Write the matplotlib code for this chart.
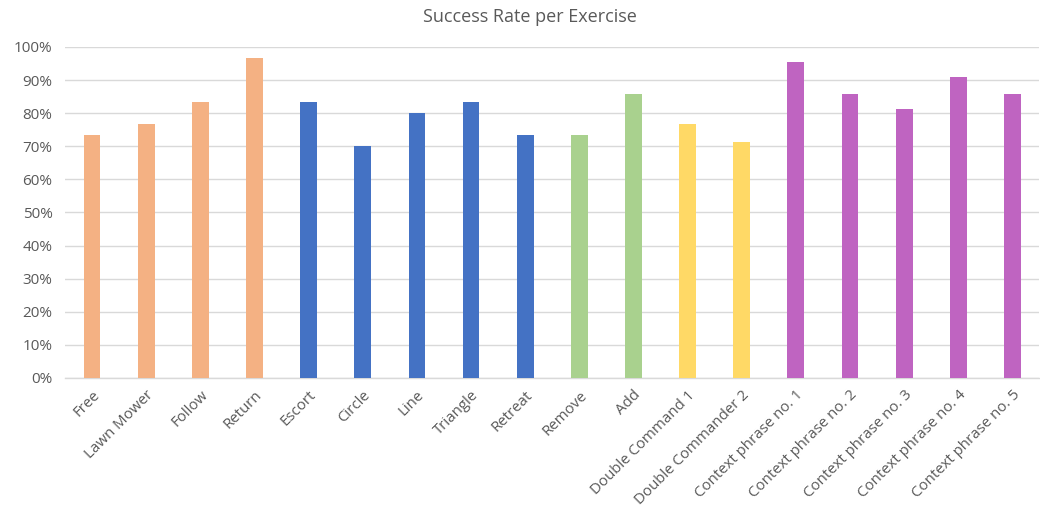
import matplotlib
matplotlib.use("Agg")
import matplotlib.pyplot as plt
from matplotlib.ticker import PercentFormatter

exercises = ["Free", "Lawn Mower", "Follow", "Return",
             "Escort", "Circle", "Line", "Triangle", "Retreat",
             "Remove", "Add",
             "Double Command 1", "Double Commander 2",
             "Context phrase no. 1", "Context phrase no. 2", "Context phrase no. 3",
             "Context phrase no. 4", "Context phrase no. 5"]
success = [73.3, 76.7, 83.3, 96.7,
           83.3, 70.0, 80.0, 83.3, 73.3,
           73.3, 85.8,
           76.7, 71.4,
           95.5, 85.8, 81.4, 91.0, 85.8]
groups = ["movement"] * 4 + ["formation"] * 5 + ["edit"] * 2 + ["double"] * 2 + ["context"] * 5

group_colors = {
    "movement": "#F4B183",
    "formation": "#4472C4",
    "edit": "#A9D18E",
    "double": "#FFD966",
    "context": "#BF64C1",
}
colors = [group_colors[g] for g in groups]

plt.rcParams["font.family"] = ["Open Sans", "DejaVu Sans"]
text_gray = "#595959"

fig = plt.figure(figsize=(10.4, 5.14), dpi=100)
ax = fig.add_axes([0.0625, 0.2646, 0.937, 0.644])

x = range(len(exercises))
ax.bar(x, success, width=0.31, color=colors, zorder=3)

ax.set_ylim(0, 100)
ax.set_xlim(-0.5, len(exercises) - 0.5)
ax.set_yticks(range(0, 101, 10))
ax.yaxis.set_major_formatter(PercentFormatter(decimals=0))
ax.grid(axis="y", color="#D9D9D9", linewidth=1, zorder=0)
ax.set_axisbelow(True)

for s in ["top", "right", "left"]:
    ax.spines[s].set_visible(False)
ax.spines["bottom"].set_color("#D9D9D9")
ax.spines["bottom"].set_linewidth(1)

ax.set_xticks(list(x))
ax.set_xticklabels(exercises, rotation=45, ha="right", rotation_mode="anchor",
                   fontsize=10.8, color=text_gray)
ax.tick_params(axis="x", length=0, pad=7)
ax.tick_params(axis="y", length=0, labelsize=11, labelcolor=text_gray, pad=9)

fig.text(0.51, 0.967, "Success Rate per Exercise", ha="center", va="center",
         fontsize=13, color=text_gray)

fig.savefig("out.png", dpi=100)
